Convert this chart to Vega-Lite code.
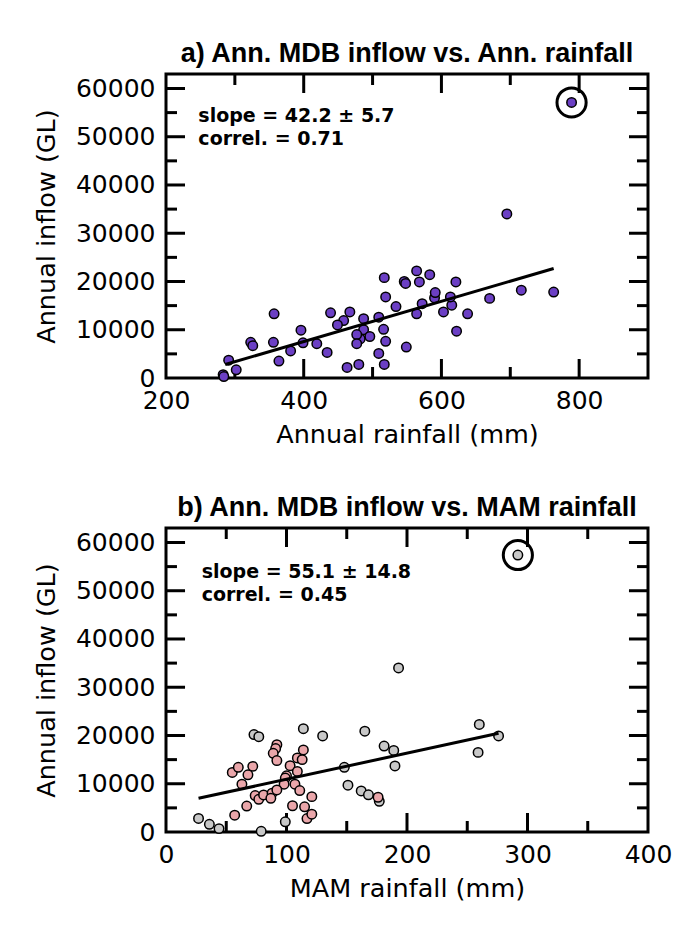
{
  "$schema": "https://vega.github.io/schema/vega-lite/v6.json",
  "background": "white",
  "padding": {"left": 32, "top": 38, "right": 10, "bottom": 10},
  "spacing": 43,
  "datasets": {
    "xa": [{"rain": 300, "kind": "minor"}, {"rain": 400, "kind": "major"}, {"rain": 500, "kind": "minor"}, {"rain": 600, "kind": "major"}, {"rain": 700, "kind": "minor"}, {"rain": 800, "kind": "major"}],
    "xb": [{"mam": 50, "kind": "minor"}, {"mam": 100, "kind": "major"}, {"mam": 150, "kind": "minor"}, {"mam": 200, "kind": "major"}, {"mam": 250, "kind": "minor"}, {"mam": 300, "kind": "major"}, {"mam": 350, "kind": "minor"}],
    "yt": [{"inflow": 5000, "kind": "minor"}, {"inflow": 10000, "kind": "major"}, {"inflow": 15000, "kind": "minor"}, {"inflow": 20000, "kind": "major"}, {"inflow": 25000, "kind": "minor"}, {"inflow": 30000, "kind": "major"}, {"inflow": 35000, "kind": "minor"}, {"inflow": 40000, "kind": "major"}, {"inflow": 45000, "kind": "minor"}, {"inflow": 50000, "kind": "major"}, {"inflow": 55000, "kind": "minor"}, {"inflow": 60000, "kind": "major"}]
  },
  "config": {
    "font": "DejaVu Sans",
    "view": {"stroke": "black", "strokeWidth": 3},
    "axis": {
      "labelFont": "DejaVu Sans", "titleFont": "DejaVu Sans",
      "labelFontSize": 25, "titleFontSize": 25.5, "labelColor": "black", "titleColor": "black",
      "titleFontWeight": "normal", "grid": false, "domain": false, "ticks": false,
      "labelFlush": false, "labelOverlap": false, "format": "d"
    },
    "rule": {"color": "black", "strokeWidth": 3},
    "title": {"font": "Liberation Sans", "fontSize": 27, "fontWeight": "bold", "color": "black", "anchor": "middle", "frame": "group", "offset": 5}
  },
  "vconcat": [
    {
      "width": 482, "height": 304,
      "title": "a) Ann. MDB inflow vs. Ann. rainfall",
      "layer": [
        {
          "data": {"name": "xa"},
          "transform": [{"filter": "datum.kind == 'major'"}],
          "mark": {"type": "rule"},
          "encoding": {
            "x": {"field": "rain", "type": "quantitative", "scale": {"domain": [200, 900], "nice": false, "zero": false},
              "axis": {"orient": "bottom", "values": [200, 400, 600, 800], "labelPadding": 10, "title": "Annual rainfall (mm)", "titlePadding": 9}},
            "y": {"datum": 0, "type": "quantitative", "scale": {"domain": [0, 63000], "nice": false, "zero": false},
              "axis": {"orient": "left", "values": [0, 10000, 20000, 30000, 40000, 50000, 60000], "labelPadding": 11, "title": "Annual inflow (GL)", "titlePadding": 16}},
            "y2": {"datum": 3940}
          }
        },
        {
          "data": {"name": "xa"},
          "transform": [{"filter": "datum.kind == 'minor'"}],
          "mark": {"type": "rule"},
          "encoding": {
            "x": {"field": "rain", "type": "quantitative"},
            "y": {"datum": 0, "type": "quantitative"},
            "y2": {"datum": 2280}
          }
        },
        {
          "data": {"name": "xa"},
          "transform": [{"filter": "datum.kind == 'major'"}],
          "mark": {"type": "rule"},
          "encoding": {
            "x": {"field": "rain", "type": "quantitative"},
            "y": {"datum": 63000, "type": "quantitative"},
            "y2": {"datum": 59060}
          }
        },
        {
          "data": {"name": "xa"},
          "transform": [{"filter": "datum.kind == 'minor'"}],
          "mark": {"type": "rule"},
          "encoding": {
            "x": {"field": "rain", "type": "quantitative"},
            "y": {"datum": 63000, "type": "quantitative"},
            "y2": {"datum": 60720}
          }
        },
        {
          "data": {"name": "yt"},
          "transform": [{"filter": "datum.kind == 'major'"}],
          "mark": {"type": "rule"},
          "encoding": {
            "y": {"field": "inflow", "type": "quantitative"},
            "x": {"datum": 200, "type": "quantitative"},
            "x2": {"datum": 227.6}
          }
        },
        {
          "data": {"name": "yt"},
          "transform": [{"filter": "datum.kind == 'minor'"}],
          "mark": {"type": "rule"},
          "encoding": {
            "y": {"field": "inflow", "type": "quantitative"},
            "x": {"datum": 200, "type": "quantitative"},
            "x2": {"datum": 216}
          }
        },
        {
          "data": {"name": "yt"},
          "transform": [{"filter": "datum.kind == 'major'"}],
          "mark": {"type": "rule"},
          "encoding": {
            "y": {"field": "inflow", "type": "quantitative"},
            "x": {"datum": 900, "type": "quantitative"},
            "x2": {"datum": 872.4}
          }
        },
        {
          "data": {"name": "yt"},
          "transform": [{"filter": "datum.kind == 'minor'"}],
          "mark": {"type": "rule"},
          "encoding": {
            "y": {"field": "inflow", "type": "quantitative"},
            "x": {"datum": 900, "type": "quantitative"},
            "x2": {"datum": 884}
          }
        },
        {
          "data": {"values": [
            {"rain": 789, "inflow": 57100}, {"rain": 695, "inflow": 34000}, {"rain": 763, "inflow": 17800},
            {"rain": 716, "inflow": 18200}, {"rain": 670, "inflow": 16500}, {"rain": 638, "inflow": 13300},
            {"rain": 621, "inflow": 19900}, {"rain": 622, "inflow": 9700}, {"rain": 615, "inflow": 15100},
            {"rain": 613, "inflow": 16800}, {"rain": 603, "inflow": 13700}, {"rain": 590, "inflow": 16600},
            {"rain": 591, "inflow": 17700}, {"rain": 583, "inflow": 21400}, {"rain": 568, "inflow": 19900},
            {"rain": 564, "inflow": 22200}, {"rain": 572, "inflow": 15400}, {"rain": 564, "inflow": 13300},
            {"rain": 546, "inflow": 20000}, {"rain": 548, "inflow": 19600}, {"rain": 534, "inflow": 14800},
            {"rain": 549, "inflow": 6400}, {"rain": 517, "inflow": 20800}, {"rain": 519, "inflow": 16800},
            {"rain": 509, "inflow": 12600}, {"rain": 516, "inflow": 10100}, {"rain": 519, "inflow": 7600},
            {"rain": 509, "inflow": 5100}, {"rain": 517, "inflow": 2800}, {"rain": 487, "inflow": 12300},
            {"rain": 487, "inflow": 10000}, {"rain": 496, "inflow": 8600}, {"rain": 482, "inflow": 8100},
            {"rain": 477, "inflow": 9000}, {"rain": 477, "inflow": 7100}, {"rain": 480, "inflow": 2800},
            {"rain": 463, "inflow": 2200}, {"rain": 467, "inflow": 13700}, {"rain": 458, "inflow": 11900},
            {"rain": 449, "inflow": 11000}, {"rain": 439, "inflow": 13500}, {"rain": 419, "inflow": 7100},
            {"rain": 434, "inflow": 5300}, {"rain": 399, "inflow": 7300}, {"rain": 396, "inflow": 9900},
            {"rain": 381, "inflow": 5600}, {"rain": 357, "inflow": 13300}, {"rain": 356, "inflow": 7400},
            {"rain": 364, "inflow": 3500}, {"rain": 323, "inflow": 7400}, {"rain": 326, "inflow": 6700},
            {"rain": 291, "inflow": 3700}, {"rain": 302, "inflow": 1700}, {"rain": 283, "inflow": 700},
            {"rain": 284, "inflow": 300}
          ]},
          "mark": {"type": "circle", "size": 90, "color": "#6b3fc4", "stroke": "black", "strokeWidth": 1.5, "opacity": 1},
          "encoding": {
            "x": {"field": "rain", "type": "quantitative"},
            "y": {"field": "inflow", "type": "quantitative"}
          }
        },
        {
          "data": {"values": [{"rain": 286, "inflow": 2800}, {"rain": 763, "inflow": 22700}]},
          "mark": {"type": "line", "color": "black", "strokeWidth": 3},
          "encoding": {
            "x": {"field": "rain", "type": "quantitative"},
            "y": {"field": "inflow", "type": "quantitative"}
          }
        },
        {
          "data": {"values": [{"label": "slope = 42.2 ± 5.7", "rain": 247, "inflow": 53000}, {"label": "correl. = 0.71", "rain": 247, "inflow": 48300}]},
          "mark": {"type": "text", "align": "left", "baseline": "alphabetic", "fontSize": 19, "fontWeight": "bold", "font": "DejaVu Sans", "color": "black"},
          "encoding": {
            "text": {"field": "label"},
            "x": {"field": "rain", "type": "quantitative"},
            "y": {"field": "inflow", "type": "quantitative"}
          }
        },
        {
          "data": {"values": [{"rain": 789, "inflow": 57100}]},
          "mark": {"type": "point", "shape": "circle", "filled": false, "size": 850, "stroke": "black", "strokeWidth": 3, "opacity": 1},
          "encoding": {
            "x": {"field": "rain", "type": "quantitative"},
            "y": {"field": "inflow", "type": "quantitative"}
          }
        }
      ]
    },
    {
      "width": 482, "height": 304,
      "title": "b) Ann. MDB inflow vs. MAM rainfall",
      "layer": [
        {
          "data": {"name": "xb"},
          "transform": [{"filter": "datum.kind == 'major'"}],
          "mark": {"type": "rule"},
          "encoding": {
            "x": {"field": "mam", "type": "quantitative", "scale": {"domain": [0, 400], "nice": false, "zero": false},
              "axis": {"orient": "bottom", "values": [0, 100, 200, 300, 400], "labelPadding": 10, "title": "MAM rainfall (mm)", "titlePadding": 9}},
            "y": {"datum": 0, "type": "quantitative", "scale": {"domain": [0, 63000], "nice": false, "zero": false},
              "axis": {"orient": "left", "values": [0, 10000, 20000, 30000, 40000, 50000, 60000], "labelPadding": 11, "title": "Annual inflow (GL)", "titlePadding": 16}},
            "y2": {"datum": 3940}
          }
        },
        {
          "data": {"name": "xb"},
          "transform": [{"filter": "datum.kind == 'minor'"}],
          "mark": {"type": "rule"},
          "encoding": {
            "x": {"field": "mam", "type": "quantitative"},
            "y": {"datum": 0, "type": "quantitative"},
            "y2": {"datum": 2280}
          }
        },
        {
          "data": {"name": "xb"},
          "transform": [{"filter": "datum.kind == 'major'"}],
          "mark": {"type": "rule"},
          "encoding": {
            "x": {"field": "mam", "type": "quantitative"},
            "y": {"datum": 63000, "type": "quantitative"},
            "y2": {"datum": 59060}
          }
        },
        {
          "data": {"name": "xb"},
          "transform": [{"filter": "datum.kind == 'minor'"}],
          "mark": {"type": "rule"},
          "encoding": {
            "x": {"field": "mam", "type": "quantitative"},
            "y": {"datum": 63000, "type": "quantitative"},
            "y2": {"datum": 60720}
          }
        },
        {
          "data": {"name": "yt"},
          "transform": [{"filter": "datum.kind == 'major'"}],
          "mark": {"type": "rule"},
          "encoding": {
            "y": {"field": "inflow", "type": "quantitative"},
            "x": {"datum": 0, "type": "quantitative"},
            "x2": {"datum": 15.8}
          }
        },
        {
          "data": {"name": "yt"},
          "transform": [{"filter": "datum.kind == 'minor'"}],
          "mark": {"type": "rule"},
          "encoding": {
            "y": {"field": "inflow", "type": "quantitative"},
            "x": {"datum": 0, "type": "quantitative"},
            "x2": {"datum": 9.1}
          }
        },
        {
          "data": {"name": "yt"},
          "transform": [{"filter": "datum.kind == 'major'"}],
          "mark": {"type": "rule"},
          "encoding": {
            "y": {"field": "inflow", "type": "quantitative"},
            "x": {"datum": 400, "type": "quantitative"},
            "x2": {"datum": 384.2}
          }
        },
        {
          "data": {"name": "yt"},
          "transform": [{"filter": "datum.kind == 'minor'"}],
          "mark": {"type": "rule"},
          "encoding": {
            "y": {"field": "inflow", "type": "quantitative"},
            "x": {"datum": 400, "type": "quantitative"},
            "x2": {"datum": 390.9}
          }
        },
        {
          "data": {"values": [
            {"mam": 292, "inflow": 57400, "cluster": "out"}, {"mam": 193, "inflow": 34000, "cluster": "out"},
            {"mam": 260, "inflow": 22300, "cluster": "out"}, {"mam": 276, "inflow": 19900, "cluster": "out"},
            {"mam": 259, "inflow": 16500, "cluster": "out"}, {"mam": 189, "inflow": 16900, "cluster": "out"},
            {"mam": 181, "inflow": 17800, "cluster": "out"}, {"mam": 190, "inflow": 13700, "cluster": "out"},
            {"mam": 165, "inflow": 20900, "cluster": "out"}, {"mam": 130, "inflow": 19900, "cluster": "out"},
            {"mam": 114, "inflow": 21400, "cluster": "out"}, {"mam": 148, "inflow": 13400, "cluster": "out"},
            {"mam": 151, "inflow": 9700, "cluster": "out"}, {"mam": 162, "inflow": 8500, "cluster": "out"},
            {"mam": 168, "inflow": 7700, "cluster": "out"}, {"mam": 177, "inflow": 6350, "cluster": "out"},
            {"mam": 73, "inflow": 20200, "cluster": "out"}, {"mam": 77, "inflow": 19750, "cluster": "out"},
            {"mam": 99, "inflow": 2100, "cluster": "out"}, {"mam": 79, "inflow": 150, "cluster": "out"},
            {"mam": 27, "inflow": 2800, "cluster": "out"}, {"mam": 36, "inflow": 1600, "cluster": "out"},
            {"mam": 44, "inflow": 700, "cluster": "out"},
            {"mam": 176, "inflow": 7200, "cluster": "in"}, {"mam": 92, "inflow": 18100, "cluster": "in"},
            {"mam": 91, "inflow": 17300, "cluster": "in"}, {"mam": 89, "inflow": 16300, "cluster": "in"},
            {"mam": 92, "inflow": 14800, "cluster": "in"}, {"mam": 114, "inflow": 17000, "cluster": "in"},
            {"mam": 109, "inflow": 15350, "cluster": "in"}, {"mam": 113, "inflow": 15000, "cluster": "in"},
            {"mam": 103, "inflow": 13750, "cluster": "in"}, {"mam": 109, "inflow": 12560, "cluster": "in"},
            {"mam": 100, "inflow": 11650, "cluster": "in"}, {"mam": 99, "inflow": 11170, "cluster": "in"},
            {"mam": 98, "inflow": 9900, "cluster": "in"}, {"mam": 107, "inflow": 9900, "cluster": "in"},
            {"mam": 55, "inflow": 12350, "cluster": "in"}, {"mam": 60, "inflow": 13400, "cluster": "in"},
            {"mam": 72, "inflow": 13600, "cluster": "in"}, {"mam": 68, "inflow": 11860, "cluster": "in"},
            {"mam": 63, "inflow": 9900, "cluster": "in"}, {"mam": 74, "inflow": 7540, "cluster": "in"},
            {"mam": 77, "inflow": 6770, "cluster": "in"}, {"mam": 81, "inflow": 7680, "cluster": "in"},
            {"mam": 88, "inflow": 8030, "cluster": "in"}, {"mam": 87, "inflow": 6980, "cluster": "in"},
            {"mam": 92, "inflow": 8720, "cluster": "in"}, {"mam": 111, "inflow": 8580, "cluster": "in"},
            {"mam": 121, "inflow": 7330, "cluster": "in"}, {"mam": 105, "inflow": 5440, "cluster": "in"},
            {"mam": 115, "inflow": 5230, "cluster": "in"}, {"mam": 117, "inflow": 2790, "cluster": "in"},
            {"mam": 121, "inflow": 3700, "cluster": "in"}, {"mam": 67, "inflow": 5370, "cluster": "in"},
            {"mam": 57, "inflow": 3490, "cluster": "in"}
          ]},
          "mark": {"type": "circle", "size": 90, "stroke": "black", "strokeWidth": 1.5, "opacity": 1},
          "encoding": {
            "x": {"field": "mam", "type": "quantitative"},
            "y": {"field": "inflow", "type": "quantitative"},
            "color": {"field": "cluster", "type": "nominal", "scale": {"domain": ["in", "out"], "range": ["#eaa6aa", "#c8c8c8"]}, "legend": null}
          }
        },
        {
          "data": {"values": [{"mam": 27, "inflow": 6980}, {"mam": 276, "inflow": 20450}]},
          "mark": {"type": "line", "color": "black", "strokeWidth": 3},
          "encoding": {
            "x": {"field": "mam", "type": "quantitative"},
            "y": {"field": "inflow", "type": "quantitative"}
          }
        },
        {
          "data": {"values": [{"label": "slope = 55.1 ± 14.8", "mam": 29.6, "inflow": 52650}, {"label": "correl. = 0.45", "mam": 29.6, "inflow": 47900}]},
          "mark": {"type": "text", "align": "left", "baseline": "alphabetic", "fontSize": 19, "fontWeight": "bold", "font": "DejaVu Sans", "color": "black"},
          "encoding": {
            "text": {"field": "label"},
            "x": {"field": "mam", "type": "quantitative"},
            "y": {"field": "inflow", "type": "quantitative"}
          }
        },
        {
          "data": {"values": [{"mam": 292, "inflow": 57400}]},
          "mark": {"type": "point", "shape": "circle", "filled": false, "size": 850, "stroke": "black", "strokeWidth": 3, "opacity": 1},
          "encoding": {
            "x": {"field": "mam", "type": "quantitative"},
            "y": {"field": "inflow", "type": "quantitative"}
          }
        }
      ]
    }
  ]
}
